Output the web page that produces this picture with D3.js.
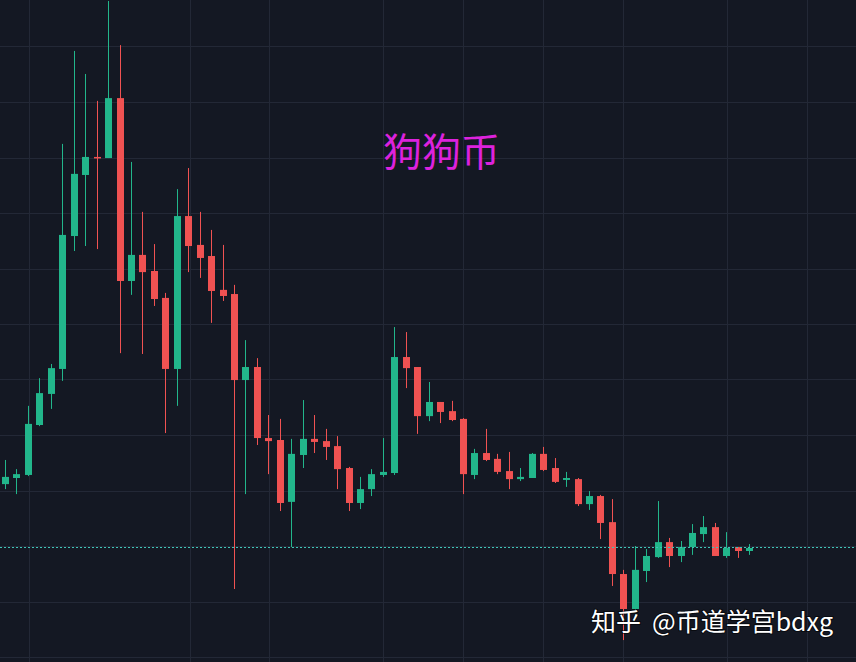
<!DOCTYPE html>
<html>
<head>
<meta charset="utf-8">
<script src="https://cdn.jsdelivr.net/npm/d3@7/dist/d3.min.js"></script>
<style>
  html, body { margin: 0; padding: 0; background: #141823; }
  svg { display: block; }
</style>
</head>
<body>
<svg id="chart" width="856" height="662"></svg>
<script>
// ---- data (candle index 0..65) ----
const openP  = [0.0623,0.0645,0.0656,0.0836,0.0948,0.1038,0.1517,0.1737,0.1802,0.1798,
                0.2014,0.1355,0.1449,0.1391,0.1294,0.1038,0.1589,0.1485,0.1445,0.1323,
                0.1308,0.0998,0.1045,0.0789,0.0782,0.0559,0.0728,0.0786,0.0778,0.0760,
                0.0681,0.0555,0.0605,0.0656,0.0663,0.1081,0.1045,0.0868,0.0919,0.0886,
                0.0858,0.0656,0.0735,0.0714,0.0670,0.0641,0.0645,0.0732,0.0681,0.0638,
                0.0641,0.0551,0.0580,0.0486,0.0299,0.0173,0.0310,0.0360,0.0414,0.0364,
                0.0396,0.0443,0.0468,0.0364,0.0396,0.0382];
const highP  = [0.0710,0.0677,0.0905,0.1005,0.1056,0.1849,0.2184,0.2101,0.2004,0.2364,
                0.2205,0.1784,0.1604,0.1488,0.1312,0.1686,0.1762,0.1604,0.1539,0.1485,
                0.1341,0.1142,0.1077,0.0872,0.0858,0.0786,0.0926,0.0872,0.0822,0.0796,
                0.0685,0.0649,0.0677,0.0789,0.1189,0.1171,0.1045,0.0991,0.0919,0.0923,
                0.0861,0.0750,0.0822,0.0732,0.0739,0.0681,0.0735,0.0757,0.0717,0.0667,
                0.0645,0.0598,0.0584,0.0569,0.0314,0.0400,0.0389,0.0562,0.0429,0.0418,
                0.0479,0.0508,0.0483,0.0450,0.0396,0.0407];
const lowP   = [0.0605,0.0587,0.0652,0.0832,0.0894,0.0995,0.1463,0.1481,0.1470,0.1798,
                0.1095,0.1305,0.1092,0.1265,0.0807,0.0905,0.1387,0.1366,0.1204,0.1283,
                0.0245,0.0587,0.0764,0.0659,0.0526,0.0396,0.0681,0.0735,0.0710,0.0605,
                0.0526,0.0533,0.0580,0.0649,0.0656,0.0969,0.0804,0.0850,0.0843,0.0850,
                0.0587,0.0641,0.0706,0.0659,0.0605,0.0634,0.0645,0.0670,0.0627,0.0613,
                0.0544,0.0530,0.0425,0.0256,0.0061,0.0169,0.0270,0.0357,0.0324,0.0342,
                0.0368,0.0414,0.0364,0.0357,0.0357,0.0368];
const closeP = [0.0649,0.0659,0.0840,0.0951,0.1041,0.1521,0.1741,0.1802,0.1798,0.2014,
                0.1355,0.1449,0.1387,0.1290,0.1038,0.1589,0.1481,0.1438,0.1319,0.1301,
                0.0998,0.1045,0.0789,0.0778,0.0555,0.0732,0.0786,0.0775,0.0757,0.0677,
                0.0555,0.0605,0.0659,0.0667,0.1081,0.1041,0.0868,0.0919,0.0883,0.0854,
                0.0659,0.0735,0.0710,0.0667,0.0641,0.0649,0.0732,0.0674,0.0631,0.0645,
                0.0551,0.0580,0.0483,0.0299,0.0173,0.0314,0.0364,0.0414,0.0364,0.0396,
                0.0447,0.0468,0.0364,0.0393,0.0382,0.0393];
const priceGrid = [0, 0.02, 0.04, 0.06, 0.08, 0.10, 0.12, 0.14, 0.16, 0.18, 0.20, 0.22];
const timeGrid  = [2.1, 16.15, 23.1, 33, 40, 47, 54, 63.1, 70];
const titleText = "狗狗币";
const watermark = "知乎 @币道学宫bdxg";

// ---- layout ----
const W = 856, H = 662;
const svg = d3.select("#chart");
const x = d3.scaleLinear().domain([0, 65]).range([5, 749.25]);
const y = d3.scaleLinear().domain([0, 0.24]).range([657, 657 - 0.24 * 2775]);
const bodyW = 7;
const up = "#22b68b", down = "#f05252";

svg.append("rect").attr("width", W).attr("height", H).attr("fill", "#141823");

// grid
const g = svg.append("g").attr("stroke", "#232836").attr("stroke-width", 1);
g.selectAll("line.h").data(priceGrid).enter().append("line")
  .attr("x1", 0).attr("x2", W)
  .attr("y1", d => Math.round(y(d)) + 0.5).attr("y2", d => Math.round(y(d)) + 0.5);
g.selectAll("line.v").data(timeGrid).enter().append("line")
  .attr("y1", 0).attr("y2", H)
  .attr("x1", d => Math.round(x(d)) + 0.5).attr("x2", d => Math.round(x(d)) + 0.5);

// candles
const data = openP.map((o, i) => ({ i, o, h: highP[i], l: lowP[i], c: closeP[i] }));
const cg = svg.append("g");
const candle = cg.selectAll("g.c").data(data).enter().append("g");
candle.append("line")
  .attr("x1", d => Math.round(x(d.i)) + 0.5).attr("x2", d => Math.round(x(d.i)) + 0.5)
  .attr("y1", d => y(d.h)).attr("y2", d => y(d.l))
  .attr("stroke", d => d.c >= d.o ? up : down).attr("stroke-width", 1);
candle.append("rect")
  .attr("x", d => Math.round(x(d.i)) + 0.5 - bodyW / 2)
  .attr("width", bodyW)
  .attr("y", d => y(Math.max(d.o, d.c)))
  .attr("height", d => Math.max(1.5, Math.abs(y(d.o) - y(d.c))))
  .attr("fill", d => d.c >= d.o ? up : down);

// last price dotted line
const last = closeP[closeP.length - 1];
svg.append("line")
  .attr("x1", 0).attr("x2", W)
  .attr("y1", Math.round(y(last)) - 0.5).attr("y2", Math.round(y(last)) - 0.5)
  .attr("stroke", "#3fc4b6").attr("stroke-width", 1)
  .attr("stroke-dasharray", "2,2");

// title
svg.append("text")
  .attr("x", 441.5).attr("y", 166)
  .attr("text-anchor", "middle")
  .attr("font-family", "'Noto Sans CJK SC', 'Noto Sans', sans-serif")
  .attr("font-size", 39)
  .attr("fill", "#dd22dd")
  .text(titleText);

// watermark
const parts = watermark.split(" ");
const wm = svg.append("text")
  .attr("y", 631)
  .attr("font-family", "'Noto Sans CJK SC', 'Noto Sans', sans-serif")
  .attr("font-size", 25)
  .attr("fill", "#ffffff")
  .style("paint-order", "stroke")
  .attr("stroke", "rgba(0,0,0,0.55)").attr("stroke-width", 2);
wm.append("tspan").attr("x", 591).text(parts[0]);
wm.append("tspan").attr("x", 652).text(parts[1]);
</script>
</body>
</html>
